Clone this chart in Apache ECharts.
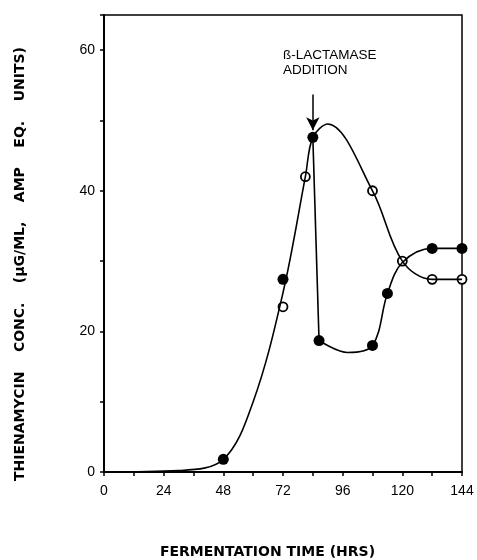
<!DOCTYPE html>
<html>
<head>
<meta charset="utf-8">
<script src="https://cdn.jsdelivr.net/npm/echarts@6/dist/echarts.min.js"></script>
<style>
  html, body { margin: 0; padding: 0; background: #fff; }
  #chart { width: 477px; height: 560px; }
</style>
</head>
<body>
<div id="chart"></div>
<script>
// measured points (hours, value)
let controlHrs = [72, 81, 108, 120, 132, 144]
let controlVals = [23.5, 42, 40, 30, 27.4, 27.4]
let enzymeHrs = [48, 72, 84, 86.5, 108, 114, 132, 144]
let enzymeVals = [1.8, 27.4, 47.6, 18.7, 18, 25.4, 31.8, 31.8]

// hand drawn curves
let controlCurveHrs = [0, 30, 48, 60, 72, 81, 84, 90, 108, 120, 132, 144]
let controlCurveVals = [0, 0.2, 1.8, 10, 25.5, 42, 47.6, 49.5, 40, 30, 27.4, 27.4]
let enzymeCurveHrs = [86.5, 98, 108, 114, 120, 132, 144]
let enzymeCurveVals = [18.7, 17, 18, 25.4, 29.8, 31.8, 31.8]
let dropHrs = [84, 86.5]
let dropVals = [47.6, 18.7]

let xTicks = [0, 24, 48, 72, 96, 120, 144]
let yTicks = [0, 20, 40, 60]

function pairs(xs, ys) {
  return xs.map(function (x, i) { return [x, ys[i]] })
}

let chart = echarts.init(document.getElementById('chart'))
let ink = '#000'
let option = {
  backgroundColor: '#fff',
  animation: false,
  grid: {
    left: 104, right: 15, top: 15, bottom: 88,
    containLabel: false, outerBoundsMode: 'none',
    show: true, borderColor: ink, borderWidth: 1.5
  },
  xAxis: {
    type: 'value', min: 0, max: 144, interval: 12,
    name: 'FERMENTATION TIME (HRS)',
    nameLocation: 'middle', nameGap: 73,
    nameTextStyle: { fontFamily: 'DejaVu Sans', fontWeight: 'bold', fontSize: 14, color: ink, padding: [0, 31, 0, 0] },
    axisLine: { lineStyle: { color: ink, width: 2 } },
    axisTick: { length: 4, lineStyle: { color: ink, width: 1.5 } },
    splitLine: { show: false },
    axisLabel: {
      margin: 12, fontFamily: 'Liberation Sans', fontSize: 14, color: ink,
      formatter: function (v) { return xTicks.indexOf(v) >= 0 ? String(v) : '' }
    }
  },
  yAxis: {
    type: 'value', min: 0, max: 65, interval: 10,
    axisLine: { lineStyle: { color: ink, width: 2 } },
    axisTick: { length: 4, lineStyle: { color: ink, width: 1.5 } },
    splitLine: { show: false },
    axisLabel: {
      margin: 9, fontFamily: 'Liberation Sans', fontSize: 14, color: ink,
      formatter: function (v) { return yTicks.indexOf(v) >= 0 ? String(v) : '' }
    }
  },
  graphic: [{
    type: 'text', x: 20, y: 264, rotation: Math.PI / 2,
    style: {
      text: 'THIENAMYCIN    CONC.    (\u00b5G/ML,    AMP    EQ.    UNITS)',
      font: 'bold 14px "DejaVu Sans"', fill: ink,
      align: 'center', verticalAlign: 'middle'
    }
  }],
  series: [
    {
      type: 'line', data: pairs(controlCurveHrs, controlCurveVals),
      smooth: 0.35, symbol: 'none',
      lineStyle: { color: ink, width: 1.6 }
    },
    {
      type: 'line', data: pairs(dropHrs, dropVals),
      symbol: 'none', lineStyle: { color: ink, width: 1.6 }
    },
    {
      type: 'line', data: pairs(enzymeCurveHrs, enzymeCurveVals),
      smooth: 0.35, symbol: 'none',
      lineStyle: { color: ink, width: 1.6 }
    },
    {
      type: 'scatter', data: pairs(controlHrs, controlVals),
      symbol: 'circle', symbolSize: 9,
      itemStyle: { color: '#fff', borderColor: ink, borderWidth: 1.8, opacity: 1 }
    },
    {
      type: 'scatter', data: pairs(enzymeHrs, enzymeVals),
      symbol: 'circle', symbolSize: 11,
      itemStyle: { color: ink, opacity: 1 },
      markLine: {
        silent: true, symbol: ['none', 'arrow'], symbolSize: [10, 13],
        lineStyle: { color: ink, width: 1.5, type: 'solid' },
        label: { show: false },
        data: [[{ coord: [84, 53.7] }, { coord: [84, 48.6] }]]
      },
      markPoint: {
        silent: true, symbol: 'circle', symbolSize: 0,
        label: {
          show: true, position: 'right', distance: 0, align: 'left',
          fontFamily: 'Liberation Sans', fontSize: 13.5, lineHeight: 15, color: ink,
          formatter: '\u00df-LACTAMASE\nADDITION'
        },
        data: [{ coord: [72, 58.2] }]
      }
    }
  ]
}
chart.setOption(option)
</script>
</body>
</html>
